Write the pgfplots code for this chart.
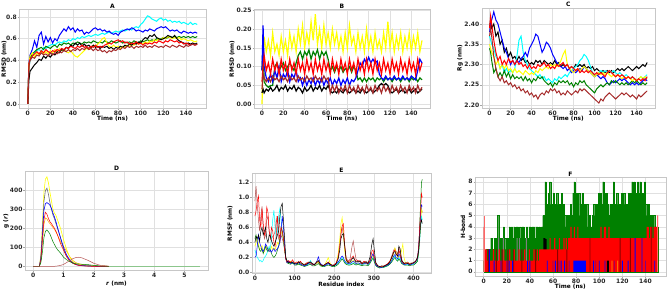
\documentclass[border=0pt]{standalone}
\usepackage{pgfplots}
\pgfplotsset{compat=1.18}
\usepackage{pgfplotstable}
\usepackage{fontspec}
\setmainfont{DejaVu Sans}
\definecolor{mgreen}{RGB}{0,128,0}
\definecolor{mbrown}{RGB}{165,42,42}
\definecolor{mcyan}{RGB}{0,255,255}
\definecolor{myellow}{RGB}{255,255,0}
\definecolor{mdarkred}{RGB}{139,0,0}
\definecolor{mpurple}{RGB}{128,0,128}
\definecolor{morange}{RGB}{255,165,0}
\definecolor{mgray}{RGB}{110,110,110}

\pgfplotsset{mpl/.style={scale only axis, axis line style={black!22}, grid=major,
  grid style={black!12,line width=0.5pt}, tick align=outside, major tick length=1.5pt,
  tick style={black!35,line width=0.4pt}, xtick pos=lower, ytick pos=left,
  ticklabel style={font=\fontsize{6}{7}\selectfont\bfseries, text=black!85, inner sep=0.8pt},
  label style={font=\fontsize{5.8}{7}\selectfont\bfseries},
  every axis title/.style={at={(0.5,1)}, anchor=south, inner sep=1pt, font=\fontsize{6}{7}\selectfont\bfseries},
  /pgf/number format/assume math mode=true},
  xlab/.style={xlabel style={at={([yshift=-#1]axis description cs:0.5,0)}, anchor=center}},
  ylab/.style={ylabel style={at={([xshift=-#1]axis description cs:0,0.5)}, anchor=center}}}

\pgfplotstableread{
t bl cy gr ye bk rd br
0 0 0 0 0 0 0 0
1 .38 .33 .35 .36 .22 .37 .34
2 .45 .40 .42 .44 .30 .41 .40
4 .50 .44 .46 .47 .33 .44 .43
6 .58 .47 .48 .43 .36 .46 .42
8 .52 .49 .50 .47 .38 .48 .45
10 .63 .50 .51 .45 .41 .46 .44
12 .66 .48 .52 .49 .40 .49 .47
14 .55 .52 .50 .46 .44 .47 .45
16 .62 .51 .53 .48 .42 .50 .46
18 .57 .53 .52 .46 .45 .48 .44
20 .61 .54 .51 .49 .43 .47 .47
22 .56 .55 .53 .47 .46 .49 .45
24 .60 .54 .54 .50 .45 .48 .47
26 .58 .56 .52 .48 .48 .50 .46
28 .63 .57 .55 .51 .47 .49 .48
30 .66 .56 .54 .49 .50 .51 .47
32 .69 .58 .56 .50 .49 .50 .49
34 .67 .57 .55 .48 .52 .52 .48
36 .71 .59 .56 .47 .51 .51 .50
38 .68 .58 .54 .49 .54 .53 .48
40 .70 .60 .56 .46 .53 .52 .50
42 .66 .59 .55 .44 .56 .51 .49
44 .69 .61 .57 .43 .54 .53 .51
46 .67 .60 .56 .45 .56 .52 .49
48 .68 .62 .55 .47 .53 .54 .51
50 .64 .61 .57 .49 .55 .52 .50
52 .66 .62 .56 .51 .53 .53 .52
54 .65 .63 .57 .50 .54 .51 .50
56 .67 .62 .56 .52 .52 .53 .51
58 .69 .63 .58 .54 .54 .52 .49
60 .70 .64 .57 .53 .52 .54 .51
62 .68 .63 .56 .55 .53 .52 .49
64 .69 .64 .57 .57 .51 .53 .50
66 .67 .65 .56 .60 .53 .52 .48
68 .68 .64 .58 .61 .52 .54 .49
70 .66 .65 .57 .56 .53 .55 .47
72 .67 .66 .56 .53 .51 .56 .49
74 .65 .65 .58 .52 .52 .55 .48
76 .64 .66 .57 .54 .50 .57 .50
78 .65 .67 .56 .52 .52 .58 .49
80 .63 .66 .57 .53 .51 .59 .51
82 .66 .67 .58 .51 .53 .57 .50
84 .67 .68 .56 .53 .52 .58 .52
86 .68 .67 .57 .52 .54 .56 .51
88 .69 .68 .56 .54 .53 .57 .53
90 .68 .69 .57 .53 .55 .55 .52
92 .70 .68 .56 .55 .54 .56 .53
94 .69 .70 .58 .54 .56 .55 .51
96 .67 .71 .57 .56 .55 .57 .53
98 .68 .70 .56 .55 .57 .55 .52
100 .67 .73 .58 .56 .56 .56 .53
102 .66 .75 .57 .55 .59 .54 .52
104 .68 .78 .58 .57 .61 .56 .54
106 .67 .81 .59 .56 .60 .55 .52
108 .69 .80 .58 .58 .63 .56 .53
110 .68 .78 .59 .57 .62 .55 .52
112 .67 .77 .58 .59 .64 .57 .54
114 .69 .76 .60 .58 .61 .56 .53
116 .70 .78 .59 .60 .60 .58 .52
118 .71 .79 .60 .59 .59 .57 .53
120 .70 .77 .61 .61 .60 .56 .52
122 .71 .78 .60 .60 .61 .58 .54
124 .69 .76 .61 .62 .63 .57 .53
126 .67 .77 .62 .61 .62 .59 .52
128 .68 .75 .61 .60 .61 .58 .54
130 .67 .76 .62 .61 .63 .57 .53
132 .68 .75 .61 .60 .60 .58 .52
134 .66 .76 .62 .61 .58 .56 .54
136 .65 .74 .61 .59 .57 .57 .53
138 .67 .75 .62 .60 .56 .55 .52
140 .66 .74 .61 .59 .55 .56 .54
142 .65 .73 .62 .58 .56 .55 .53
144 .66 .75 .61 .59 .55 .54 .54
146 .65 .73 .62 .58 .56 .55 .55
148 .66 .74 .61 .57 .55 .54 .54
150 .65 .73 .62 .58 .56 .55 .55
}\tabA

\pgfplotstableread{
t ye gr rd bl br bk
0 .00 .09 .06 .09 .04 .03
1 .12 .165 .10 .21 .08 .04
2 .18 .06 .13 .10 .07 .03
4 .14 .05 .09 .07 .06 .04
6 .17 .045 .11 .06 .07 .035
8 .13 .05 .08 .08 .06 .045
10 .19 .05 .12 .06 .075 .035
12 .14 .10 .09 .09 .065 .04
14 .16 .11 .11 .07 .07 .05
16 .13 .09 .08 .10 .06 .035
18 .18 .10 .12 .06 .075 .045
20 .14 .11 .09 .08 .065 .04
22 .17 .09 .11 .07 .07 .05
24 .13 .10 .08 .09 .06 .035
26 .19 .11 .12 .06 .075 .045
28 .15 .10 .09 .08 .065 .04
30 .18 .09 .11 .07 .07 .05
32 .14 .11 .08 .09 .06 .035
34 .20 .13 .12 .06 .075 .045
36 .16 .14 .09 .07 .065 .04
38 .21 .12 .11 .05 .07 .03
40 .15 .14 .08 .07 .06 .045
42 .19 .13 .12 .05 .075 .035
44 .16 .145 .09 .065 .065 .04
46 .22 .12 .11 .055 .07 .05
48 .17 .14 .08 .07 .06 .035
50 .24 .13 .12 .05 .075 .045
52 .16 .145 .09 .065 .065 .04
54 .20 .12 .11 .055 .07 .05
56 .15 .14 .08 .07 .06 .035
58 .21 .13 .12 .05 .075 .045
60 .16 .14 .09 .065 .065 .04
62 .19 .12 .11 .055 .07 .05
64 .15 .09 .08 .07 .03 .035
66 .20 .10 .12 .05 .05 .03
68 .16 .085 .09 .065 .035 .035
70 .19 .10 .11 .055 .05 .03
72 .15 .09 .08 .07 .03 .04
74 .18 .10 .12 .05 .045 .035
76 .14 .085 .09 .065 .035 .03
78 .19 .095 .11 .055 .05 .04
80 .15 .09 .08 .07 .03 .035
82 .21 .10 .12 .05 .05 .03
84 .16 .085 .09 .065 .035 .035
86 .18 .10 .11 .06 .045 .04
88 .14 .09 .08 .07 .03 .03
90 .19 .065 .12 .09 .05 .035
92 .15 .07 .09 .11 .035 .03
94 .18 .06 .11 .10 .045 .04
96 .14 .07 .08 .12 .03 .035
98 .20 .06 .12 .11 .05 .03
100 .15 .07 .09 .125 .035 .035
102 .18 .065 .11 .11 .045 .04
104 .14 .07 .08 .12 .03 .03
106 .19 .06 .12 .11 .05 .035
108 .15 .07 .09 .115 .035 .04
110 .17 .065 .11 .08 .045 .05
112 .14 .07 .08 .07 .03 .055
114 .19 .06 .12 .065 .05 .05
116 .15 .07 .09 .075 .035 .055
118 .22 .065 .11 .065 .045 .05
120 .15 .07 .08 .07 .03 .035
122 .19 .06 .12 .065 .05 .03
124 .14 .07 .09 .075 .035 .035
126 .18 .065 .11 .065 .045 .04
128 .15 .07 .08 .07 .03 .03
130 .19 .06 .12 .065 .05 .035
132 .14 .07 .09 .075 .035 .04
134 .18 .065 .11 .065 .045 .03
136 .15 .07 .08 .07 .03 .035
138 .19 .06 .12 .065 .05 .04
140 .14 .07 .09 .075 .035 .03
142 .18 .065 .11 .07 .045 .035
144 .15 .07 .08 .065 .03 .04
146 .19 .06 .12 .09 .05 .03
148 .14 .07 .09 .12 .035 .035
150 .17 .065 .11 .11 .045 .04
}\tabB

\pgfplotstableread{
t bk bl cy gr ye rd br
0 2.39 2.38 2.37 2.34 2.35 2.39 2.37
1 2.41 2.40 2.36 2.33 2.34 2.42 2.39
2 2.39 2.41 2.35 2.31 2.33 2.40 2.37
4 2.40 2.43 2.34 2.28 2.32 2.36 2.32
6 2.37 2.41 2.32 2.29 2.30 2.33 2.29
8 2.38 2.40 2.31 2.27 2.31 2.31 2.27
10 2.35 2.38 2.29 2.28 2.29 2.32 2.26
12 2.36 2.36 2.30 2.27 2.30 2.30 2.27
14 2.33 2.34 2.28 2.285 2.29 2.31 2.255
16 2.34 2.33 2.29 2.27 2.30 2.30 2.26
18 2.32 2.315 2.28 2.28 2.285 2.315 2.25
20 2.33 2.30 2.285 2.265 2.29 2.305 2.255
22 2.315 2.31 2.28 2.275 2.28 2.31 2.245
24 2.32 2.30 2.29 2.265 2.29 2.30 2.25
26 2.31 2.31 2.32 2.27 2.28 2.31 2.24
28 2.32 2.305 2.36 2.265 2.285 2.30 2.245
30 2.31 2.315 2.37 2.27 2.28 2.305 2.235
32 2.315 2.32 2.33 2.26 2.275 2.295 2.24
34 2.305 2.33 2.31 2.27 2.285 2.30 2.23
36 2.31 2.32 2.30 2.26 2.28 2.29 2.235
38 2.30 2.34 2.29 2.265 2.275 2.30 2.225
40 2.305 2.35 2.285 2.255 2.28 2.29 2.23
42 2.30 2.36 2.28 2.265 2.275 2.295 2.22
44 2.31 2.375 2.275 2.26 2.285 2.29 2.225
46 2.305 2.37 2.27 2.27 2.28 2.30 2.215
48 2.31 2.35 2.275 2.265 2.29 2.295 2.225
50 2.30 2.33 2.265 2.27 2.285 2.30 2.23
52 2.31 2.34 2.27 2.26 2.29 2.305 2.225
54 2.305 2.355 2.26 2.255 2.295 2.295 2.235
56 2.30 2.35 2.265 2.25 2.29 2.30 2.23
58 2.305 2.34 2.26 2.255 2.30 2.29 2.24
60 2.30 2.325 2.255 2.245 2.295 2.295 2.235
62 2.31 2.315 2.265 2.255 2.30 2.29 2.24
64 2.30 2.305 2.26 2.25 2.295 2.30 2.23
66 2.305 2.30 2.27 2.26 2.30 2.295 2.235
68 2.295 2.295 2.265 2.255 2.31 2.30 2.225
70 2.30 2.29 2.27 2.26 2.325 2.305 2.23
72 2.295 2.295 2.275 2.255 2.335 2.295 2.225
74 2.30 2.285 2.27 2.26 2.30 2.30 2.235
76 2.29 2.29 2.28 2.25 2.29 2.29 2.23
78 2.295 2.28 2.285 2.255 2.285 2.295 2.225
80 2.29 2.285 2.29 2.245 2.28 2.29 2.23
82 2.30 2.28 2.295 2.255 2.285 2.285 2.235
84 2.295 2.285 2.30 2.25 2.29 2.29 2.23
86 2.30 2.29 2.31 2.26 2.285 2.28 2.24
88 2.295 2.285 2.315 2.255 2.29 2.285 2.235
90 2.30 2.295 2.325 2.26 2.295 2.28 2.24
92 2.29 2.29 2.32 2.25 2.29 2.285 2.235
94 2.295 2.285 2.31 2.245 2.285 2.28 2.23
96 2.29 2.28 2.295 2.24 2.28 2.285 2.225
98 2.295 2.275 2.28 2.235 2.275 2.28 2.22
100 2.285 2.27 2.27 2.23 2.27 2.275 2.215
102 2.29 2.275 2.275 2.24 2.275 2.28 2.21
104 2.285 2.27 2.28 2.245 2.28 2.275 2.205
106 2.28 2.265 2.285 2.25 2.275 2.28 2.215
108 2.285 2.27 2.28 2.245 2.28 2.275 2.21
110 2.28 2.265 2.285 2.25 2.275 2.27 2.22
112 2.285 2.255 2.28 2.255 2.28 2.28 2.225
114 2.28 2.25 2.285 2.25 2.275 2.285 2.23
116 2.285 2.255 2.28 2.26 2.27 2.28 2.225
118 2.28 2.26 2.285 2.255 2.275 2.275 2.22
120 2.285 2.255 2.28 2.26 2.27 2.27 2.215
122 2.29 2.26 2.275 2.255 2.275 2.275 2.22
124 2.285 2.265 2.28 2.25 2.27 2.27 2.225
126 2.29 2.26 2.275 2.255 2.265 2.275 2.23
128 2.285 2.265 2.27 2.25 2.27 2.27 2.225
130 2.29 2.26 2.275 2.255 2.265 2.265 2.23
132 2.295 2.255 2.27 2.25 2.27 2.27 2.225
134 2.29 2.25 2.265 2.255 2.265 2.265 2.22
136 2.285 2.255 2.27 2.26 2.26 2.27 2.225
138 2.29 2.25 2.265 2.255 2.265 2.265 2.22
140 2.295 2.255 2.26 2.26 2.26 2.26 2.215
142 2.29 2.25 2.265 2.255 2.265 2.265 2.225
144 2.295 2.255 2.27 2.25 2.27 2.26 2.22
146 2.30 2.26 2.265 2.255 2.265 2.265 2.225
148 2.295 2.265 2.27 2.25 2.27 2.26 2.23
150 2.305 2.26 2.275 2.255 2.265 2.27 2.235
}\tabC

\pgfplotstableread{
r ye gy bl rd gr br or
0 0 0 0 0 0 0 0
0.2 0 0 0 0 0 0 0
0.25 60 50 40 35 20 0 30
0.3 220 190 160 140 75 0 120
0.35 390 340 295 245 150 0 220
0.4 460 400 330 285 185 0 255
0.45 472 412 336 275 192 0 250
0.5 440 380 330 252 182 0 235
0.55 390 335 322 235 170 0 225
0.6 345 300 305 225 150 0 215
0.65 300 270 280 212 130 0 205
0.7 280 250 260 200 115 0 195
0.75 268 225 235 185 100 1 180
0.8 245 200 205 165 88 2 165
0.9 200 150 150 120 70 5 130
1.0 140 90 100 85 48 10 105
1.1 90 55 60 50 35 20 80
1.2 50 30 35 30 25 30 52
1.3 25 16 20 18 18 40 32
1.4 14 10 10 9 14 46 20
1.5 9 6 6 5 12 48 14
1.6 6 4 4 3 11 45 10
1.8 3 2 2 1 9 32 5
2.0 2 1 1 0 5 16 2
2.2 1 0 0 0 2 6 1
2.5 0 0 0 0 0 1 0
}\tabD

\pgfplotstableread{
x rd br bk bl cy gr ye
0 .75 .95 .40 .20 .30 .45 .35
3 .82 1.15 .48 .22 .25 .50 .40
6 .95 .90 .45 .35 .20 .40 .45
9 1.02 .70 .50 .50 .18 .35 .38
12 .70 .55 .42 .40 .15 .30 .30
15 .60 .75 .55 .35 .16 .28 .33
18 .85 .88 .60 .30 .14 .32 .36
21 .65 .60 .50 .28 .16 .25 .30
24 .50 .45 .55 .32 .20 .30 .28
27 .55 .50 .60 .38 .22 .35 .32
30 .87 .70 .45 .35 .25 .30 .35
33 .80 .75 .40 .30 .30 .28 .30
36 .55 .55 .50 .28 .35 .32 .28
39 .45 .50 .48 .30 .30 .30 .30
42 .60 .45 .42 .27 .50 .25 .35
45 .55 .48 .38 .30 .70 .22 .30
48 .40 .50 .35 .32 .83 .20 .33
51 .35 .55 .40 .28 .60 .22 .30
54 .50 .72 .45 .30 .45 .25 .35
57 .75 .60 .50 .32 .55 .30 .40
60 .55 .45 .55 .35 .75 .35 .38
63 .45 .40 .75 .40 .85 .45 .45
66 .60 .50 .88 .55 .70 .60 .55
69 .55 .45 .92 .75 .55 .55 .50
72 .45 .40 .70 .60 .40 .45 .45
75 .30 .30 .45 .35 .30 .30 .30
78 .18 .20 .20 .18 .20 .18 .20
81 .14 .15 .16 .13 .15 .13 .14
85 .16 .14 .13 .15 .12 .12 .13
90 .13 .15 .14 .12 .14 .11 .15
95 .17 .14 .13 .14 .12 .13 .14
100 .12 .13 .12 .11 .13 .10 .12
105 .14 .12 .11 .12 .11 .10 .13
110 .13 .15 .14 .13 .12 .11 .12
115 .15 .12 .13 .11 .10 .10 .11
120 .11 .10 .12 .10 .11 .09 .12
125 .10 .11 .10 .09 .10 .08 .10
130 .12 .13 .11 .10 .09 .09 .11
135 .14 .12 .13 .12 .11 .10 .12
140 .13 .15 .14 .13 .16 .11 .13
145 .11 .12 .12 .10 .11 .09 .10
150 .10 .11 .10 .11 .10 .09 .11
155 .13 .12 .14 .13 .12 .10 .12
160 .15 .14 .16 .21 .15 .12 .14
165 .11 .10 .11 .12 .10 .09 .10
170 .09 .10 .09 .10 .09 .08 .09
175 .10 .09 .10 .09 .08 .08 .10
180 .12 .11 .12 .10 .11 .09 .14
185 .14 .13 .13 .12 .12 .10 .20
190 .11 .10 .11 .10 .10 .09 .12
195 .09 .09 .10 .09 .08 .08 .09
200 .10 .11 .09 .10 .09 .08 .10
205 .13 .12 .12 .11 .10 .09 .12
210 .20 .22 .18 .14 .13 .11 .25
214 .35 .40 .30 .17 .16 .14 .45
217 .50 .55 .45 .20 .18 .16 .65
220 .62 .60 .50 .22 .20 .18 .73
223 .65 .50 .52 .20 .18 .16 .55
226 .40 .35 .38 .16 .15 .13 .30
230 .18 .20 .17 .13 .12 .11 .15
235 .14 .15 .13 .12 .11 .10 .12
240 .16 .18 .14 .12 .11 .10 .13
245 .20 .35 .18 .14 .12 .11 .15
248 .22 .42 .20 .15 .13 .12 .16
251 .18 .30 .17 .14 .12 .11 .14
255 .15 .18 .14 .12 .11 .10 .12
260 .16 .15 .15 .13 .12 .11 .13
265 .14 .16 .15 .12 .11 .10 .12
270 .12 .13 .12 .11 .10 .09 .11
275 .15 .14 .13 .12 .11 .10 .12
280 .13 .15 .14 .12 .13 .10 .13
285 .12 .13 .12 .11 .10 .09 .11
290 .16 .15 .20 .14 .13 .12 .14
295 .28 .22 .38 .22 .18 .17 .20
298 .30 .25 .45 .25 .20 .19 .22
301 .22 .18 .30 .18 .16 .14 .17
305 .12 .11 .13 .10 .10 .09 .11
310 .09 .08 .09 .08 .08 .07 .08
315 .08 .07 .08 .07 .07 .06 .07
320 .08 .08 .09 .07 .08 .07 .08
325 .09 .08 .08 .08 .07 .07 .08
330 .10 .09 .10 .09 .08 .08 .09
335 .12 .11 .11 .10 .09 .09 .10
340 .15 .14 .14 .12 .12 .11 .13
345 .20 .22 .20 .16 .15 .14 .18
350 .28 .30 .27 .22 .20 .18 .25
353 .30 .32 .28 .24 .22 .20 .33
356 .25 .28 .24 .20 .18 .17 .27
360 .22 .25 .22 .18 .16 .15 .20
363 .30 .33 .35 .25 .20 .18 .22
366 .25 .30 .32 .22 .18 .16 .20
370 .15 .18 .16 .14 .13 .12 .30
373 .13 .14 .14 .12 .12 .11 .38
376 .12 .13 .12 .11 .11 .10 .20
380 .12 .12 .13 .11 .10 .10 .12
385 .13 .14 .12 .12 .11 .10 .13
390 .11 .12 .11 .10 .10 .09 .11
395 .12 .13 .12 .11 .11 .10 .12
400 .13 .12 .13 .12 .11 .10 .12
405 .15 .14 .15 .14 .12 .12 .14
410 .20 .18 .20 .19 .16 .15 .18
413 .35 .30 .30 .35 .25 .30 .28
416 .65 .55 .50 .60 .45 .70 .50
418 .85 .75 .65 .80 .60 .95 .70
420 1.05 .85 .70 .90 .75 1.20 .85
422 1.00 .80 .65 .88 .70 1.24 .80
}\tabE

\pgfplotstableread{
t g r
0 1 4
1 1 2
2 2 2
3 1 1
4 2 2
5 2 1
6 3 1
7 2 1
8 2 2
9 3 1
10 2 1
11 3 1
12 5 1
13 3 2
14 2 1
15 3 1
16 3 1
17 4 2
18 3 1
19 2 1
20 3 1
21 3 1
22 4 2
23 3 1
24 4 1
25 3 1
26 4 2
27 3 1
28 4 1
29 4 1
30 3 2
31 4 1
32 3 1
33 4 1
34 4 1
35 3 2
36 3 1
37 4 1
38 3 1
39 4 2
40 4 1
41 3 1
42 4 1
43 4 2
44 3 1
45 4 1
46 4 2
47 3 1
48 4 2
49 3 2
50 4 2
51 5 2
52 4 2
53 8 2
54 5 2
55 6 2
56 7 2
57 8 3
58 6 2
59 5 2
60 7 2
61 6 3
62 5 2
63 7 2
64 6 2
65 5 3
66 6 2
67 7 2
68 5 2
69 6 3
70 5 2
71 4 3
72 5 2
73 4 3
74 5 3
75 6 4
76 5 3
77 7 3
78 8 4
79 6 3
80 7 3
81 6 4
82 7 3
83 5 3
84 6 3
85 7 3
86 5 3
87 6 3
88 5 3
89 6 3
90 4 3
91 5 3
92 4 3
93 4 3
94 5 3
95 6 3
96 5 3
97 6 3
98 5 3
99 7 3
100 6 3
101 7 4
102 6 3
103 8 3
104 7 4
105 6 4
106 7 3
107 6 3
108 5 4
109 6 3
110 5 3
111 6 3
112 8 3
113 5 3
114 6 3
115 7 3
116 6 3
117 5 3
118 6 3
119 7 3
120 6 3
121 7 3
122 6 3
123 5 3
124 6 3
125 7 3
126 6 3
127 7 3
128 8 3
129 7 3
130 8 3
131 7 3
132 6 3
133 8 3
134 7 3
135 8 3
136 7 3
137 6 3
138 7 3
139 8 3
140 6 3
141 5 4
142 6 4
143 5 3
144 4 4
145 5 4
146 4 3
147 5 4
148 4 4
149 4 4
150 4 5
151 4 5
}\tabF

\begin{document}
\begin{tikzpicture}
\path[use as bounding box] (0,0) rectangle (669pt,291pt);

% ---------- A ----------
\begin{axis}[mpl, at={(19.3pt,182.7pt)}, anchor=south west, width=186.4pt, height=99pt,
  xmin=-7.5, xmax=157.5, ymin=-0.04, ymax=0.87,
  xtick={0,20,...,140}, ytick={0,0.2,0.4,0.6,0.8},
  yticklabel style={/pgf/number format/.cd,fixed,fixed zerofill,precision=1},
  title={A}, xlabel={Time (ns)}, ylabel={RMSD (nm)}, xlab=10.2pt, ylab=15.3pt]
\addplot[mcyan, line width=1pt] table[x=t,y=cy]{\tabA};
\addplot[blue, line width=1pt] table[x=t,y=bl]{\tabA};
\addplot[mgreen, line width=1pt] table[x=t,y=gr]{\tabA};
\addplot[myellow, line width=1pt] table[x=t,y=ye]{\tabA};
\addplot[black, line width=1pt] table[x=t,y=bk]{\tabA};
\addplot[red, line width=1pt] table[x=t,y=rd]{\tabA};
\addplot[mbrown, line width=1pt] table[x=t,y=br]{\tabA};
\end{axis}

% ---------- B ----------
\begin{axis}[mpl, at={(254pt,182.7pt)}, anchor=south west, width=176pt, height=99pt,
  xmin=-7.5, xmax=157.5, ymin=-0.011, ymax=0.253,
  xtick={0,20,...,140}, ytick={0,0.05,0.1,0.15,0.2,0.25},
  yticklabel style={/pgf/number format/.cd,fixed,fixed zerofill,precision=2},
  title={B}, xlabel={Time (ns)}, ylabel={RMSD (nm)}, xlab=10.2pt, ylab=22pt]
\addplot[myellow, line width=1.2pt] table[x=t,y=ye]{\tabB};
\addplot[mgreen, line width=1.2pt] table[x=t,y=gr]{\tabB};
\addplot[blue, line width=1.2pt] table[x=t,y=bl]{\tabB};
\addplot[red, line width=1.2pt] table[x=t,y=rd]{\tabB};
\addplot[black, line width=1.2pt] table[x=t,y=bk]{\tabB};
\addplot[mbrown, line width=1.2pt] table[x=t,y=br]{\tabB};
\end{axis}

% ---------- C ----------
\begin{axis}[mpl, at={(481.7pt,182.7pt)}, anchor=south west, width=173.3pt, height=100.3pt,
  xmin=-7.5, xmax=157.5, ymin=2.192, ymax=2.4395,
  xtick={0,20,...,140}, ytick={2.2,2.25,2.3,2.35,2.4},
  yticklabel style={/pgf/number format/.cd,fixed,fixed zerofill,precision=2},
  title={C}, xlabel={Time (ns)}, ylabel={Rg (nm)}, xlab=10.2pt, ylab=21.7pt]
\addplot[black, line width=1pt] table[x=t,y=bk]{\tabC};
\addplot[mcyan, line width=1pt] table[x=t,y=cy]{\tabC};
\addplot[blue, line width=1pt] table[x=t,y=bl]{\tabC};
\addplot[mgreen, line width=1pt] table[x=t,y=gr]{\tabC};
\addplot[myellow, line width=1pt] table[x=t,y=ye]{\tabC};
\addplot[mbrown, line width=1pt] table[x=t,y=br]{\tabC};
\addplot[red, line width=1pt] table[x=t,y=rd]{\tabC};
\end{axis}

% ---------- D ----------
\begin{axis}[mpl, at={(25pt,20.3pt)}, anchor=south west, width=183pt, height=99pt,
  xmin=-0.275, xmax=5.775, ymin=-23, ymax=499,
  xtick={0,1,2,3,4,5}, ytick={0,100,200,300,400},
  title={D}, xlabel={\textit{r} (nm)}, ylabel={g (\textit{r})}, xlab=12.6pt, ylab=19pt]
\addplot[mgreen!45, line width=1pt] coordinates {(2.2,0) (5.5,0)};
\addplot[morange, line width=0.5pt] table[x=r,y=or]{\tabD};
\addplot[myellow, line width=0.6pt] table[x=r,y=ye]{\tabD};
\addplot[mgray, line width=0.6pt] table[x=r,y=gy]{\tabD};
\addplot[blue, line width=0.6pt] table[x=r,y=bl]{\tabD};
\addplot[red, line width=0.5pt] table[x=r,y=rd]{\tabD};
\addplot[mgreen, line width=0.5pt] table[x=r,y=gr]{\tabD};
\addplot[mbrown!80, line width=0.5pt] table[x=r,y=br]{\tabD};
\end{axis}

% ---------- E ----------
\begin{axis}[mpl, at={(251.7pt,17.7pt)}, anchor=south west, width=179.3pt, height=100pt,
  xmin=-8, xmax=444, ymin=-0.01, ymax=1.32,
  xtick={0,100,200,300,400}, ytick={0,0.2,0.4,0.6,0.8,1.0,1.2},
  yticklabel style={/pgf/number format/.cd,fixed,fixed zerofill,precision=1},
  title={E}, xlabel={Residue index}, ylabel={RMSF (nm)}, xlab=11pt, ylab=21.7pt]
\addplot[mbrown, opacity=0.8, line width=0.5pt] table[x=x,y=br]{\tabE};
\addplot[mcyan, line width=0.5pt] table[x=x,y=cy]{\tabE};
\addplot[myellow, line width=0.5pt] table[x=x,y=ye]{\tabE};
\addplot[mgreen, line width=0.5pt] table[x=x,y=gr]{\tabE};
\addplot[blue, line width=0.5pt] table[x=x,y=bl]{\tabE};
\addplot[red, line width=0.5pt] table[x=x,y=rd]{\tabE};
\addplot[black, line width=0.5pt] table[x=x,y=bk]{\tabE};
\end{axis}

% ---------- F ----------
\begin{axis}[mpl, at={(475pt,14.7pt)}, anchor=south west, width=190.7pt, height=99pt,
  xmin=-7.5, xmax=157.5, ymin=-0.4, ymax=8.4,
  xtick={0,20,...,140}, ytick={0,1,...,8},
  title={F}, xlabel={Time (ns)}, ylabel={H-bond}, xlab=10.4pt, ylab=12pt]
\addplot[const plot, fill=mgreen, draw=mgreen, line width=0.2pt] table[x=t,y=g]{\tabF} \closedcycle;
\addplot[ybar, bar width=0.8, bar shift=0pt, fill=black, draw=none] coordinates {(52,3)(53,3)(54,2.9)};
\addplot[ybar, bar width=0.8, bar shift=0pt, fill=gray, draw=none] coordinates {(13,3)(17,3)(29,3)(31,3)(37,3)};
\addplot[const plot, fill=red, draw=none] table[x=t,y=r]{\tabF} \closedcycle;
\addplot[red!60, line width=0.5pt] coordinates {(0.3,0) (0.3,5)};
\addplot[red!60, line width=0.5pt] coordinates {(150,0) (150,5)};
\addplot[ybar, bar width=0.8, bar shift=0pt, fill=mdarkred, draw=none] coordinates {(4,2)(11,2)(16,2)(21,2)(26,2)(33,2)(45,2)(64,2)(72,2)(92,3)(118,3)(127,3)(145,4)};
\addplot[ybar, bar width=0.8, bar shift=0pt, fill=blue, draw=none] coordinates {(5,2)(9,1)(15,1)(22,1)(25,1)(38,1)(40,1)(55,1)(62,1)(67,1)(70,1)(78,1)(79,1)(80,1)(81,1)(82,1)(83,1)(84,1)(85,1)(86,1)(87,1)(88,1)(95,1)(100,1)(105,1)(120,1)(125,1)(131,3)(137,3)(148,1)};
\addplot[ybar, bar width=0.8, bar shift=0pt, fill=mpurple, draw=none] coordinates {(20,1)(60,1)(65,1)(74,1)(97,1)(113,1)(140,1)};
\addplot[ybar, bar width=0.8, bar shift=0pt, fill=black, draw=none] coordinates {(107,1)(108,1)};
\addplot[ybar, bar width=0.6, bar shift=0pt, fill=morange, draw=none] coordinates {(111,1)(116,1)};
\end{axis}
\end{tikzpicture}
\end{document}
